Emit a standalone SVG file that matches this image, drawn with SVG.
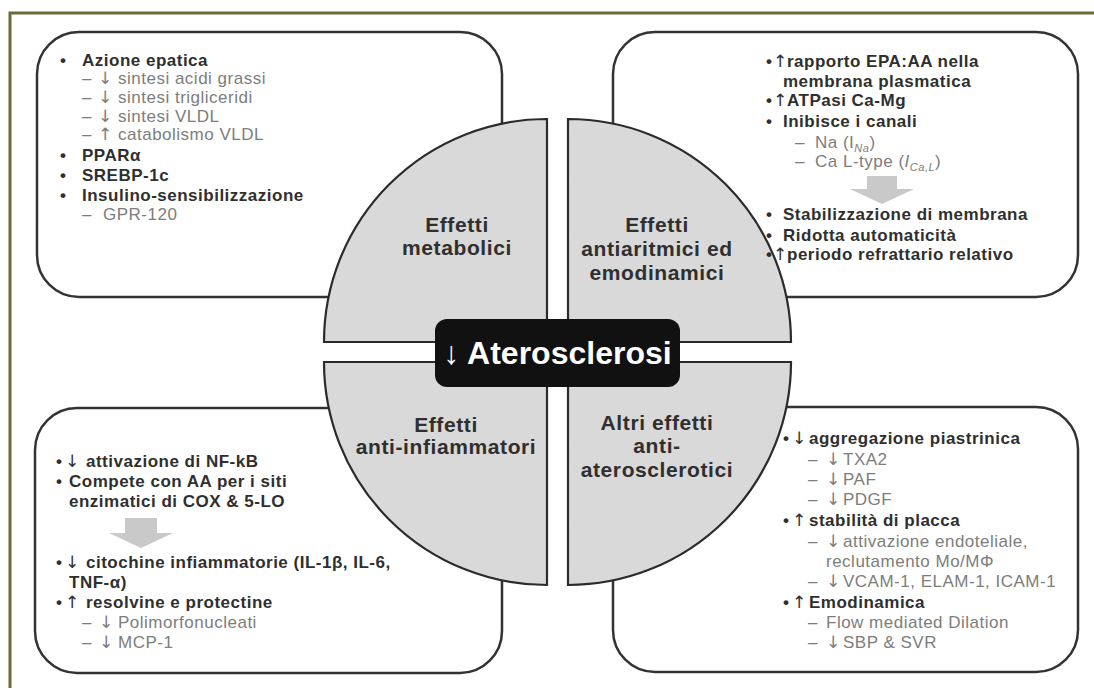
<svg xmlns="http://www.w3.org/2000/svg" width="1094" height="688" viewBox="0 0 1094 688">
<style>
.box{fill:#fff;stroke:#333;stroke-width:2.5}
.q{fill:#d9d9d9;stroke:#2b2b2b;stroke-width:2.2}
.b{font-family:"Liberation Sans",Arial,sans-serif;font-weight:bold;font-size:17px;fill:#2f2f2f;letter-spacing:0.5px}
.g{font-family:"Liberation Sans",Arial,sans-serif;font-size:17px;fill:#7d7d7d;letter-spacing:0.5px}
.ql{font-family:"Liberation Sans",Arial,sans-serif;font-weight:bold;font-size:21px;fill:#2f2f2f;text-anchor:middle;letter-spacing:0.6px}
.ar{font-family:"DejaVu Sans",sans-serif;font-weight:normal;letter-spacing:0}
.sub{font-size:11px;font-style:italic}
.blk{fill:#c9c9c9}
</style>
<rect x="0" y="0" width="1094" height="688" fill="#fff"/>
<rect x="10" y="13" width="1200" height="800" fill="none" stroke="#6d6b3b" stroke-width="3"/>

<g id="box-metabolici"><rect class="box" x="37" y="32" width="465" height="265" rx="42"/></g>
<g id="box-antiaritmici"><rect class="box" x="613" y="32" width="465" height="265" rx="42"/></g>
<g id="box-antiinfiammatori"><rect class="box" x="35" y="408" width="467" height="265" rx="42"/></g>
<g id="box-altri"><rect class="box" x="613" y="407" width="465" height="265" rx="42"/></g>

<g id="quadrant-metabolici"><path class="q" d="M547,342 L324,342 A223,223 0 0 1 547,119 Z"/>
<text class="ql" x="457" y="232">Effetti</text><text class="ql" x="457" y="255">metabolici</text></g>
<g id="quadrant-antiaritmici"><path class="q" d="M568,342 L568,119 A223,223 0 0 1 791,342 Z"/>
<text class="ql" x="657" y="232">Effetti</text><text class="ql" x="657" y="256">antiaritmici ed</text><text class="ql" x="657" y="280">emodinamici</text></g>
<g id="quadrant-antiinfiammatori"><path class="q" d="M547,362 L547,585 A223,223 0 0 1 324,362 Z"/>
<text class="ql" x="446" y="432">Effetti</text><text class="ql" x="446" y="454">anti-infiammatori</text></g>
<g id="quadrant-altri"><path class="q" d="M568,362 L791,362 A223,223 0 0 1 568,585 Z"/>
<text class="ql" x="657" y="430">Altri effetti</text><text class="ql" x="657" y="453">anti-</text><text class="ql" x="657" y="477">aterosclerotici</text></g>

<g id="center-aterosclerosi"><rect x="435" y="319" width="245" height="68" rx="12" fill="#111"/>
<text x="557.5" y="364" text-anchor="middle" font-family="Liberation Sans, Arial, sans-serif" font-weight="bold" font-size="32" fill="#fff">↓ Aterosclerosi</text></g>

<g id="connectors">
<path class="blk" d="M867,176 H897 V189 H914 L882,204 L850,189 H867 Z"/>
<path class="blk" d="M125,518 H157 V533 H173 L141,548 L109,533 H125 Z"/>
</g>

<g id="text-metabolici">
<text class="b"><tspan x="60" y="66">•</tspan><tspan x="82" y="66">Azione epatica</tspan></text>
<text class="g"><tspan x="82" y="84">–</tspan><tspan class="ar" x="98" y="84">↓</tspan><tspan x="118" y="84">sintesi acidi grassi</tspan></text>
<text class="g"><tspan x="82" y="103">–</tspan><tspan class="ar" x="98" y="103">↓</tspan><tspan x="118" y="103">sintesi trigliceridi</tspan></text>
<text class="g"><tspan x="82" y="122">–</tspan><tspan class="ar" x="98" y="122">↓</tspan><tspan x="118" y="122">sintesi VLDL</tspan></text>
<text class="g"><tspan x="82" y="140">–</tspan><tspan class="ar" x="98" y="140">↑</tspan><tspan x="118" y="140">catabolismo VLDL</tspan></text>
<text class="b"><tspan x="60" y="161">•</tspan><tspan x="82" y="161">PPARα</tspan></text>
<text class="b"><tspan x="60" y="181">•</tspan><tspan x="82" y="181">SREBP-1c</tspan></text>
<text class="b"><tspan x="60" y="201">•</tspan><tspan x="82" y="201">Insulino-sensibilizzazione</tspan></text>
<text class="g"><tspan x="82" y="220">–</tspan><tspan x="103" y="220">GPR-120</tspan></text>
</g>

<g id="text-antiaritmici">
<text class="b"><tspan x="766" y="67">•</tspan><tspan class="ar" x="773" y="67">↑</tspan><tspan x="787" y="67">rapporto EPA:AA nella</tspan></text>
<text class="b" x="783" y="87">membrana plasmatica</text>
<text class="b"><tspan x="766" y="106">•</tspan><tspan class="ar" x="773" y="106">↑</tspan><tspan x="787" y="106">ATPasi Ca-Mg</tspan></text>
<text class="b"><tspan x="766" y="127">•</tspan><tspan x="783" y="127">Inibisce i canali</tspan></text>
<text class="g"><tspan x="795" y="148">–</tspan><tspan x="815" y="148">Na (I</tspan><tspan class="sub" dy="4">Na</tspan><tspan dy="-4">)</tspan></text>
<text class="g"><tspan x="795" y="167">–</tspan><tspan x="815" y="167">Ca L-type (</tspan><tspan font-style="italic">I</tspan><tspan class="sub" dy="4">Ca,L</tspan><tspan dy="-4">)</tspan></text>
<text class="b"><tspan x="766" y="220">•</tspan><tspan x="783" y="220">Stabilizzazione di membrana</tspan></text>
<text class="b"><tspan x="766" y="241">•</tspan><tspan x="783" y="241">Ridotta automaticità</tspan></text>
<text class="b"><tspan x="766" y="260">•</tspan><tspan class="ar" x="773" y="260">↑</tspan><tspan x="787" y="260">periodo refrattario relativo</tspan></text>
</g>

<g id="text-antiinfiammatori">
<text class="b"><tspan x="56" y="467">•</tspan><tspan class="ar" x="65" y="467">↓</tspan><tspan x="86" y="467">attivazione di NF-kB</tspan></text>
<text class="b"><tspan x="56" y="487">•</tspan><tspan x="69" y="487">Compete con AA per i siti</tspan></text>
<text class="b" x="69" y="507">enzimatici di COX &amp; 5-LO</text>
<text class="b"><tspan x="56" y="568">•</tspan><tspan class="ar" x="65" y="568">↓</tspan><tspan x="86" y="568">citochine infiammatorie (IL-1β, IL-6,</tspan></text>
<text class="b" x="69" y="588">TNF-α)</text>
<text class="b"><tspan x="56" y="608">•</tspan><tspan class="ar" x="65" y="608">↑</tspan><tspan x="86" y="608">resolvine e protectine</tspan></text>
<text class="g"><tspan x="82" y="628">–</tspan><tspan class="ar" x="99" y="628">↓</tspan><tspan x="118" y="628">Polimorfonucleati</tspan></text>
<text class="g"><tspan x="82" y="648">–</tspan><tspan class="ar" x="99" y="648">↓</tspan><tspan x="118" y="648">MCP-1</tspan></text>
</g>

<g id="text-altri">
<text class="b"><tspan x="783" y="444">•</tspan><tspan class="ar" x="792" y="444">↓</tspan><tspan x="809" y="444">aggregazione piastrinica</tspan></text>
<text class="g"><tspan x="808" y="465">–</tspan><tspan class="ar" x="826" y="465">↓</tspan><tspan x="843" y="465">TXA2</tspan></text>
<text class="g"><tspan x="808" y="485">–</tspan><tspan class="ar" x="826" y="485">↓</tspan><tspan x="843" y="485">PAF</tspan></text>
<text class="g"><tspan x="808" y="505">–</tspan><tspan class="ar" x="826" y="505">↓</tspan><tspan x="843" y="505">PDGF</tspan></text>
<text class="b"><tspan x="783" y="526">•</tspan><tspan class="ar" x="792" y="526">↑</tspan><tspan x="809" y="526">stabilità di placca</tspan></text>
<text class="g"><tspan x="808" y="547">–</tspan><tspan class="ar" x="826" y="547">↓</tspan><tspan x="843" y="547">attivazione endoteliale,</tspan></text>
<text class="g" x="826" y="567">reclutamento Mo/MΦ</text>
<text class="g"><tspan x="808" y="587">–</tspan><tspan class="ar" x="826" y="587">↓</tspan><tspan x="843" y="587">VCAM-1, ELAM-1, ICAM-1</tspan></text>
<text class="b"><tspan x="783" y="608">•</tspan><tspan class="ar" x="792" y="608">↑</tspan><tspan x="809" y="608">Emodinamica</tspan></text>
<text class="g"><tspan x="808" y="628">–</tspan><tspan x="826" y="628">Flow mediated Dilation</tspan></text>
<text class="g"><tspan x="808" y="648">–</tspan><tspan class="ar" x="826" y="648">↓</tspan><tspan x="843" y="648">SBP &amp; SVR</tspan></text>
</g>
</svg>
